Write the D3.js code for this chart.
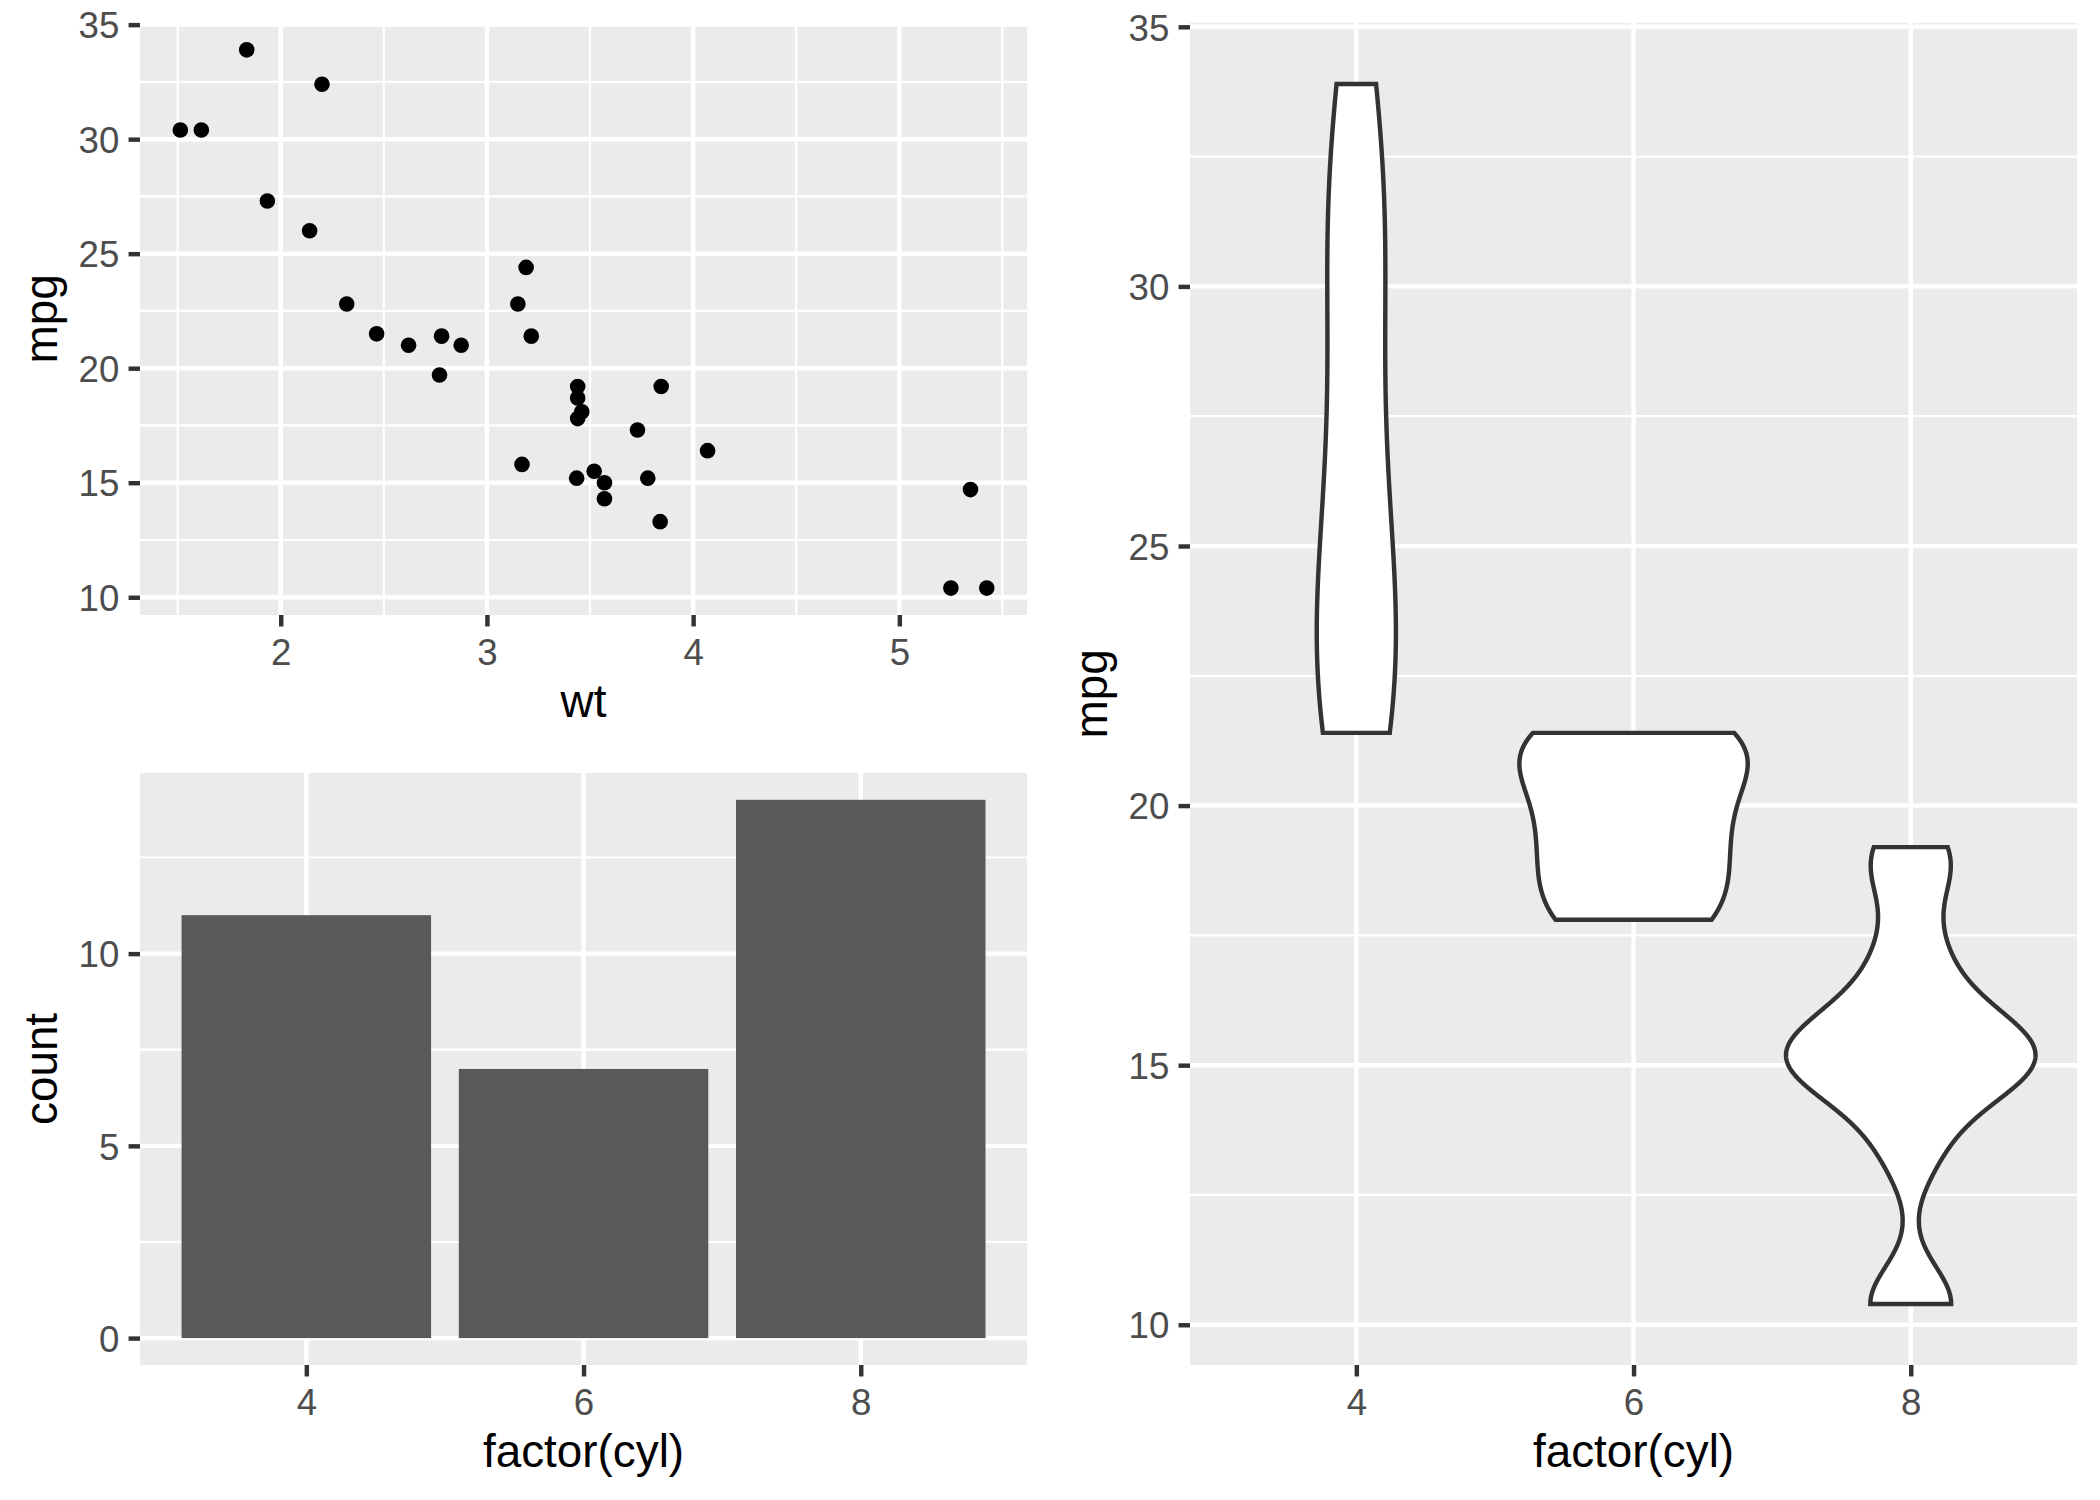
<!DOCTYPE html>
<html>
<head>
<meta charset="utf-8">
<script src="https://cdn.jsdelivr.net/npm/d3@7"></script>
<style>
  body { margin: 0; background: #fff; }
  text { font-family: "Liberation Sans", Arial, sans-serif; }
</style>
</head>
<body>
<div class="main"></div>
<script>
// mtcars: weight, mpg and cylinders for the 32 cars
const wt = [2.62, 2.875, 2.32, 3.215, 3.44, 3.46, 3.57, 3.19, 3.15, 3.44, 3.44,
  4.07, 3.73, 3.78, 5.25, 5.424, 5.345, 2.2, 1.615, 1.835, 2.465, 3.52, 3.435,
  3.84, 3.845, 1.935, 2.14, 1.513, 3.17, 2.77, 3.57, 2.78];
const mpg = [21.0, 21.0, 22.8, 21.4, 18.7, 18.1, 14.3, 24.4, 22.8, 19.2, 17.8,
  16.4, 17.3, 15.2, 10.4, 10.4, 14.7, 32.4, 30.4, 33.9, 21.5, 15.5, 15.2,
  13.3, 19.2, 27.3, 26.0, 30.4, 15.8, 19.7, 15.0, 21.4];
const cyl = [6, 6, 4, 6, 8, 6, 8, 4, 4, 6, 6, 8, 8, 8, 8, 8, 8, 4, 4, 4, 4, 8, 8,
  8, 8, 4, 4, 4, 8, 6, 8, 4];
const cylLevels = ["4", "6", "8"];

const wtTicks = [2, 3, 4, 5];
const wtMinor = [1.5, 2.5, 3.5, 4.5, 5.5];
const mpgTicks = [10, 15, 20, 25, 30, 35];
const mpgMinor = [12.5, 17.5, 22.5, 27.5, 32.5];
const countTicks = [0, 5, 10];
const countMinor = [2.5, 7.5, 12.5];

const cars = wt.map((d, i) => ({ wt: d, mpg: mpg[i], cyl: String(cyl[i]) }));

// ggplot-ish sizes at 300 dpi
const pt = 300 / 72;
const lwd = 0.5 * 2.845276 * 300 / 96;
const tickLen = 2.75 * pt;
const tickPad = 2.2 * pt;
const axisFont = 8.8 * pt;
const titleFont = 11 * pt;
const margin = 5.5 * pt;

const svg = d3
  .select(".main")
  .append("svg")
  .attr("width", 2100)
  .attr("height", 1500)
  .style("background", "#fff");

const expand = function (ext, m) {
  let pad = (ext[1] - ext[0]) * m;
  return [ext[0] - pad, ext[1] + pad];
};

function panel(box) {
  const g = svg.append("g");
  g.append("rect")
    .attr("x", box.x0)
    .attr("y", box.y0)
    .attr("width", box.x1 - box.x0)
    .attr("height", box.y1 - box.y0)
    .attr("fill", "#EBEBEB");
  return g;
}

function grid(g, box, x, y, xs, ys, w) {
  g.append("g")
    .selectAll("line")
    .data(xs)
    .join("line")
    .attr("x1", (d) => x(d))
    .attr("x2", (d) => x(d))
    .attr("y1", box.y0)
    .attr("y2", box.y1)
    .attr("stroke", "#fff")
    .attr("stroke-width", w);
  g.append("g")
    .selectAll("line")
    .data(ys)
    .join("line")
    .attr("y1", (d) => y(d))
    .attr("y2", (d) => y(d))
    .attr("x1", box.x0)
    .attr("x2", box.x1)
    .attr("stroke", "#fff")
    .attr("stroke-width", w);
}

function styleAxis(a) {
  a.select(".domain").remove();
  a.selectAll(".tick line").attr("stroke", "#333333").attr("stroke-width", lwd);
  a.selectAll(".tick text")
    .attr("fill", "#4D4D4D")
    .style("font-size", axisFont + "px")
    .style("font-family", '"Liberation Sans", Arial, sans-serif');
}

function axes(box, x, y, xt, yt) {
  let ax = svg
    .append("g")
    .attr("transform", "translate(0," + box.y1 + ")")
    .call(
      d3.axisBottom(x).tickValues(xt).tickFormat((d) => String(d))
        .tickSize(tickLen).tickPadding(tickPad)
    );
  styleAxis(ax);
  ax.selectAll(".tick text").attr("dy", null).attr("y", 50);

  let ay = svg
    .append("g")
    .attr("transform", "translate(" + box.x0 + ",0)")
    .call(
      d3.axisLeft(y).tickValues(yt).tickFormat((d) => String(d))
        .tickSize(tickLen).tickPadding(tickPad)
    );
  styleAxis(ay);
  ay.selectAll(".tick text").attr("dy", "0.36em");
}

function titles(box, xl, yl, left) {
  svg.append("text")
    .attr("x", (box.x0 + box.x1) / 2)
    .attr("y", box.y1 + 101.7)
    .attr("text-anchor", "middle")
    .style("font-size", titleFont + "px")
    .text(xl);
  let cy = (box.y0 + box.y1) / 2;
  svg.append("text")
    .attr("transform", "translate(" + (left + 57) + "," + cy + ") rotate(-90)")
    .attr("text-anchor", "middle")
    .style("font-size", titleFont + "px")
    .text(yl);
}

// ---- scatter: mpg vs wt
const sBox = { x0: 140, x1: 1050 - margin, y0: margin, y1: 615 };
const sx = d3.scaleLinear().domain(expand(d3.extent(wt), 0.05)).range([sBox.x0, sBox.x1]);
const sy = d3.scaleLinear().domain(expand(d3.extent(mpg), 0.05)).range([sBox.y1, sBox.y0]);
const sg = panel(sBox);
grid(sg, sBox, sx, sy, wtMinor, mpgMinor, lwd / 2);
grid(sg, sBox, sx, sy, wtTicks, mpgTicks, lwd);
sg.append("g")
  .selectAll("circle")
  .data(cars)
  .join("circle")
  .attr("cx", (d) => sx(d.wt))
  .attr("cy", (d) => sy(d.mpg))
  .attr("r", 7.8)
  .attr("fill", "#000");
axes(sBox, sx, sy, wtTicks, mpgTicks);
titles(sBox, "wt", "mpg", 0);

// ---- bar: count by cyl
const counts = cylLevels.map((c) => ({
  cyl: c,
  n: cars.filter((d) => d.cyl === c).length,
}));
const bBox = { x0: 140, x1: 1050 - margin, y0: 750 + margin, y1: 1365 };
const bx = d3.scalePoint().domain(cylLevels).range([bBox.x0, bBox.x1]).padding(0.6);
const by = d3
  .scaleLinear()
  .domain(expand([0, d3.max(counts, (d) => d.n)], 0.05))
  .range([bBox.y1, bBox.y0]);
const bg = panel(bBox);
grid(bg, bBox, bx, by, [], countMinor, lwd / 2);
grid(bg, bBox, bx, by, cylLevels, countTicks, lwd);
const bw = bx.step() * 0.9;
bg.append("g")
  .selectAll("rect")
  .data(counts)
  .join("rect")
  .attr("x", (d) => bx(d.cyl) - bw / 2)
  .attr("width", bw)
  .attr("y", (d) => by(d.n))
  .attr("height", (d) => by(0) - by(d.n))
  .attr("fill", "#595959");
axes(bBox, bx, by, cylLevels, countTicks);
titles(bBox, "factor(cyl)", "count", 0);

// ---- violin: mpg by cyl (gaussian kde, bw.nrd0, trimmed, scale = "area")
function bwNrd0(x) {
  let hi = d3.deviation(x);
  let iqr = d3.quantile(x, 0.75) - d3.quantile(x, 0.25);
  let lo = Math.min(hi, iqr / 1.34);
  if (!lo) lo = hi || Math.abs(x[0]) || 1;
  return 0.9 * lo * Math.pow(x.length, -0.2);
}
function kde(x, n) {
  let h = bwNrd0(x);
  let ext = d3.extent(x);
  let out = [];
  for (let i = 0; i < n; i++) {
    let y = ext[0] + ((ext[1] - ext[0]) * i) / (n - 1);
    let s = d3.sum(x, (v) => Math.exp(-0.5 * Math.pow((y - v) / h, 2)));
    out.push({ y: y, density: s / (x.length * h * Math.sqrt(2 * Math.PI)) });
  }
  return out;
}
const dens = cylLevels.map((c) => ({
  cyl: c,
  pts: kde(cars.filter((d) => d.cyl === c).map((d) => d.mpg).sort(d3.ascending), 512),
}));
const maxDens = d3.max(dens, (g) => d3.max(g.pts, (p) => p.density));

const vBox = { x0: 1190, x1: 2100 - margin, y0: margin, y1: 1365 };
const vx = d3.scalePoint().domain(cylLevels).range([vBox.x0, vBox.x1]).padding(0.6);
const vy = d3.scaleLinear().domain(expand(d3.extent(mpg), 0.05)).range([vBox.y1, vBox.y0]);
const vg = panel(vBox);
grid(vg, vBox, vx, vy, [], mpgMinor, lwd / 2);
grid(vg, vBox, vx, vy, cylLevels, mpgTicks, lwd);
const half = vx.step() * 0.45;
vg.append("g")
  .selectAll("path")
  .data(dens)
  .join("path")
  .attr("d", function (g) {
    let right = g.pts.map((p) => [vx(g.cyl) + (p.density / maxDens) * half, vy(p.y)]);
    let left = g.pts
      .slice()
      .reverse()
      .map((p) => [vx(g.cyl) - (p.density / maxDens) * half, vy(p.y)]);
    return d3.line()(right.concat(left)) + "Z";
  })
  .attr("fill", "#fff")
  .attr("stroke", "#333333")
  .attr("stroke-width", lwd)
  .attr("stroke-linejoin", "miter");
axes(vBox, vx, vy, cylLevels, mpgTicks);
titles(vBox, "factor(cyl)", "mpg", 1050);
</script>
</body>
</html>
